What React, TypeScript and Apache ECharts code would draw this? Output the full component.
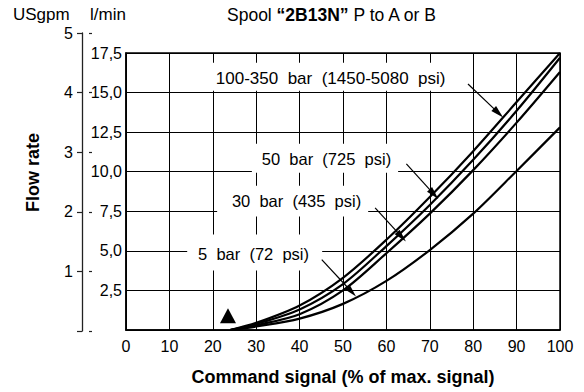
import React, { useEffect, useRef } from 'react';
import * as echarts from 'echarts';

const FONT = '"Liberation Sans", Arial, Helvetica, sans-serif';

// Command signal (% of max. signal)
const signalPct = [24, 30, 40, 50, 60, 70, 80, 90, 100];
// Flow rate (l/min) per pressure drop
const flow100to350 = [0, 0.45, 1.55, 3.3, 5.7, 8.4, 11.3, 14.4, 17.5];
const flow50 = [0, 0.38, 1.3, 2.9, 5.3, 7.9, 10.75, 13.85, 17.2];
const flow30 = [0, 0.3, 1.0, 2.5, 4.85, 7.35, 10.1, 13.1, 16.3];
const flow5 = [0, 0.22, 0.72, 1.65, 3.1, 5.05, 7.35, 10.05, 12.8];

const seriesNames = ['100-350 bar', '50 bar', '30 bar', '5 bar'];
const seriesValues = [flow100to350, flow50, flow30, flow5];

// curve labels (text)
const curveLabels = [
  '100-350  bar  (1450-5080  psi)',
  '50  bar  (725  psi)',
  '30  bar  (435  psi)',
  '5  bar  (72  psi)',
];
// label box extents in data units [x0, y0, x1, y1, textX, textY]
const labelBoxes = [
  [18.2, 15.12, 77.4, 16.89, 20.7, 15.9],
  [29.0, 9.94, 62.7, 11.77, 31.3, 10.83],
  [21.0, 7.17, 55.8, 9.12, 24.4, 8.16],
  [14.1, 3.76, 45.2, 6.03, 16.6, 4.81],
];
const labelFontSizes = [17, 16.5, 16.5, 16.5];
// leader arrows [fromX, fromY, toX, toY] in data units
const arrows = [
  [78.8, 15.54, 86.9, 13.43],
  [64.6, 10.49, 71.96, 8.28],
  [57.4, 7.71, 64.5, 5.59],
  [45.1, 4.45, 53.0, 2.11],
];
// threshold marker (triangle)
const thresholdMarker = [[23.5, 0.9]];

const xTicks = { min: 0, max: 100, interval: 10 };
const lminTicks = { min: 0, max: 17.5, interval: 2.5 };
const gpmTicks = { min: 0, max: 5, interval: 1 };

export default function App() {
  const ref = useRef<HTMLDivElement>(null);
  useEffect(() => {
    const chart = echarts.init(ref.current!, null, { renderer: 'svg' });
    const black = '#000';
    const option: any = {
      animation: false,
      backgroundColor: '#fff',
      textStyle: { fontFamily: FONT, color: black },
      grid: [
        { left: 126, top: 53, width: 434, height: 277, show: true, borderColor: black, borderWidth: 1.5 },
        { left: 82, top: 33, width: 10, height: 298 },
      ],
      xAxis: [
        {
          type: 'value', gridIndex: 0, ...xTicks,
          axisLine: { show: true, lineStyle: { color: black, width: 1.5 } },
          axisTick: { show: false },
          axisLabel: { color: black, fontSize: 16, fontFamily: FONT, margin: 8 },
          splitLine: { show: true, lineStyle: { color: black, width: 1, opacity: 1 } },
        },
        { type: 'value', gridIndex: 1, show: false, min: 0, max: 1 },
      ],
      yAxis: [
        {
          type: 'value', gridIndex: 0, ...lminTicks,
          axisLine: { show: true, lineStyle: { color: black, width: 1.5 } },
          axisTick: { show: false },
          axisLabel: {
            color: black, fontSize: 16, fontFamily: FONT, margin: 4,
            formatter: (v: number) => (v === 0 ? '' : v.toFixed(1).replace('.', ',')),
          },
          splitLine: { show: true, lineStyle: { color: black, width: 1, opacity: 1 } },
        },
        {
          type: 'value', gridIndex: 1, ...gpmTicks,
          axisLine: { show: true, lineStyle: { color: '#222', width: 1.3 } },
          axisTick: { show: true, length: 5, lineStyle: { color: '#222', width: 1.2 } },
          axisLabel: {
            color: black, fontSize: 16, fontFamily: FONT, margin: 9,
            formatter: (v: number) => (v === 0 ? '' : String(v)),
          },
          splitLine: { show: false },
        },
        {
          type: 'value', gridIndex: 1, ...gpmTicks,
          axisLine: { show: false },
          axisTick: { show: true, inside: true, length: 3, lineStyle: { color: '#222', width: 1.2 } },
          axisLabel: { show: false },
          splitLine: { show: false },
        },
      ],
      graphic: [
        { type: 'text', left: 13, top: 6, style: { text: 'USgpm', fontSize: 17, fontFamily: FONT, fill: black } },
        { type: 'text', left: 90, top: 6, style: { text: 'l/min', fontSize: 17, fontFamily: FONT, fill: black } },
        {
          type: 'text', left: 227, top: 6,
          style: {
            text: '{n|Spool }{b|\u201C2B13N\u201D}{n| P to A or B}',
            rich: {
              n: { fontSize: 17.5, fontFamily: FONT, fill: black, color: black },
              b: { fontSize: 17.5, fontFamily: FONT, fontWeight: 'bold', fill: black, color: black },
            },
          },
        },
        {
          type: 'text', x: 343, y: 377,
          style: { text: 'Command signal (% of max. signal)', fontSize: 18, fontWeight: 'bold', fontFamily: FONT, fill: black, align: 'center', verticalAlign: 'middle' },
        },
        {
          type: 'text', x: 33, y: 172.5, rotation: Math.PI / 2,
          style: { text: 'Flow rate', fontSize: 18, fontWeight: 'bold', fontFamily: FONT, fill: black, align: 'center', verticalAlign: 'middle' },
        },
      ],
      series: [
        {
          type: 'custom', name: 'labels', xAxisIndex: 0, yAxisIndex: 0, z: 2,
          data: labelBoxes,
          renderItem: (params: any, api: any) => {
            const a = api.coord([api.value(0), api.value(3)]);
            const b = api.coord([api.value(2), api.value(1)]);
            const t = api.coord([api.value(4), api.value(5)]);
            return {
              type: 'group',
              children: [
                { type: 'rect', shape: { x: a[0], y: a[1], width: b[0] - a[0], height: b[1] - a[1] }, style: { fill: '#fff' } },
                {
                  type: 'text',
                  style: {
                    text: curveLabels[params.dataIndex], x: t[0], y: t[1],
                    align: 'left', verticalAlign: 'middle', fill: black,
                    fontSize: labelFontSizes[params.dataIndex], fontFamily: FONT,
                  },
                },
              ],
            };
          },
        },
        ...seriesValues.map((vals, i) => ({
          type: 'line', name: seriesNames[i], xAxisIndex: 0, yAxisIndex: 0, z: 3,
          data: signalPct.map((x, j) => [x, vals[j]]),
          smooth: 0.3, showSymbol: false, symbol: 'none',
          lineStyle: { color: black, width: 2.2 },
        })),
        {
          type: 'custom', name: 'arrows', xAxisIndex: 0, yAxisIndex: 0, z: 4,
          data: arrows,
          renderItem: (params: any, api: any) => {
            const p0 = api.coord([api.value(0), api.value(1)]);
            const p1 = api.coord([api.value(2), api.value(3)]);
            const dx = p1[0] - p0[0];
            const dy = p1[1] - p0[1];
            const len = Math.hypot(dx, dy);
            const ux = dx / len, uy = dy / len;
            const hl = 13, hw = 3.4;
            const bx = p1[0] - ux * hl, by = p1[1] - uy * hl;
            return {
              type: 'group',
              children: [
                { type: 'line', shape: { x1: p0[0], y1: p0[1], x2: bx + ux * 2, y2: by + uy * 2 }, style: { stroke: black, lineWidth: 1.2 } },
                {
                  type: 'polygon',
                  shape: { points: [[p1[0], p1[1]], [bx - uy * hw, by + ux * hw], [bx + uy * hw, by - ux * hw]] },
                  style: { fill: black },
                },
              ],
            };
          },
        },
        {
          type: 'scatter', xAxisIndex: 0, yAxisIndex: 0, z: 5,
          data: thresholdMarker, symbol: 'triangle', symbolSize: [16, 15],
          itemStyle: { color: black, opacity: 1 },
        },
      ],
    };
    chart.setOption(option);
    return () => chart.dispose();
  }, []);
  return <div ref={ref} style={{ position: 'fixed', left: 0, top: 0, width: 584, height: 392 }} />;
}
